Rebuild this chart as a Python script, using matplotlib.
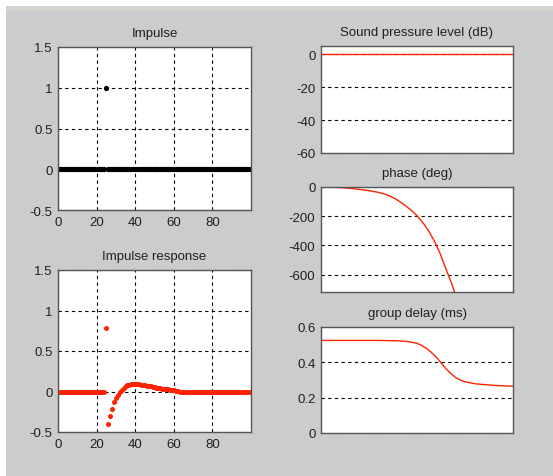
import matplotlib
matplotlib.use("Agg")
import matplotlib.pyplot as plt
from matplotlib.patches import Rectangle

# ---------------- data ----------------
n = list(range(0, 101))
impulse = [0.0] * 101
impulse[25] = 1.0

resp_head = [0.0] * 25
resp_tail_vals = [0.78, -0.40, -0.30, -0.21, -0.135, -0.085, -0.045, -0.01, 0.02, 0.045,
                  0.062, 0.075, 0.084, 0.09, 0.093, 0.094, 0.093, 0.09, 0.086, 0.082,
                  0.077, 0.072, 0.067, 0.062, 0.057, 0.053, 0.049, 0.045, 0.041, 0.037,
                  0.033, 0.029, 0.025, 0.021, 0.017, 0.013, 0.009, 0.005]
response = resp_head + resp_tail_vals + [0.0] * (101 - 25 - len(resp_tail_vals))

spl_f = [0.0, 1.0]
spl_db = [0.0, 0.0]

phase_f = [0.0, 0.05, 0.1, 0.15, 0.2, 0.25, 0.3, 0.34, 0.38, 0.41, 0.44, 0.47, 0.5,
           0.53, 0.56, 0.59, 0.62, 0.65, 0.68, 0.7, 0.72]
phase_deg = [0, -1, -4, -9, -16, -25, -37, -52, -75, -100, -128, -160, -197,
             -243, -300, -370, -455, -560, -660, -738, -820]

gd_f = [0.0, 0.1, 0.2, 0.3, 0.4, 0.45, 0.5, 0.525, 0.55, 0.575, 0.6, 0.625, 0.65, 0.675,
        0.7, 0.725, 0.75, 0.8, 0.85, 0.9, 0.95, 1.0]
gd_ms = [0.524, 0.524, 0.524, 0.524, 0.522, 0.518, 0.508, 0.495, 0.478, 0.456, 0.43,
         0.398, 0.365, 0.338, 0.315, 0.3, 0.29, 0.279, 0.274, 0.27, 0.267, 0.265]

# ---------------- style ----------------
W, H = 553, 477
plt.rcParams['font.family'] = ['Liberation Sans', 'DejaVu Sans']
plt.rcParams['font.size'] = 8
plt.rcParams['axes.unicode_minus'] = False
BG = '#cccccc'
RED = '#ff2200'
TXT = '#202020'
SPINE = '#555555'

fig = plt.figure(figsize=(W / 100, H / 100), dpi=100, facecolor='white')
fig.patches.append(Rectangle((6 / W, 0), 1, 1 - 7 / H, transform=fig.transFigure,
                             facecolor=BG, edgecolor='none', zorder=-10))
fig.patches.append(Rectangle((6 / W, 1 - 12 / H), 1, 5 / H, transform=fig.transFigure,
                             facecolor='#d6d3ce', edgecolor='none', zorder=-9))


def make_ax(l, t, r, b):
    ax = fig.add_axes([l / W, 1 - b / H, (r - l) / W, (b - t) / H])
    ax.set_facecolor('white')
    for s in ax.spines.values():
        s.set_color(SPINE)
        s.set_linewidth(1.0)
    ax.tick_params(direction='in', length=0, colors=TXT, labelsize=9.5, pad=4)
    return ax


def grid(ax, axis='both'):
    ax.grid(True, axis=axis, color='black', linestyle=(0, (3, 3)), linewidth=0.8)
    ax.set_axisbelow(True)


TFS = 9.5

# Impulse
ax1 = make_ax(58, 48, 251, 211)
ax1.plot(n, impulse, linestyle='none', marker='o', ms=3.8, mew=0, color='black')
ax1.set_xlim(0, 100)
ax1.set_ylim(-0.5, 1.5)
ax1.set_xticks([0, 20, 40, 60, 80])
ax1.set_yticks([-0.5, 0, 0.5, 1, 1.5])
ax1.set_yticklabels(['-0.5', '0', '0.5', '1', '1.5'])
grid(ax1)
ax1.set_title('Impulse', fontsize=TFS, color=TXT, pad=8)

# Impulse response
ax2 = make_ax(58, 271, 251, 433)
ax2.plot(n, response, linestyle='none', marker='o', ms=3.6, mew=0, color=RED)
ax2.set_xlim(0, 100)
ax2.set_ylim(-0.5, 1.5)
ax2.set_xticks([0, 20, 40, 60, 80])
ax2.set_yticks([-0.5, 0, 0.5, 1, 1.5])
ax2.set_yticklabels(['-0.5', '0', '0.5', '1', '1.5'])
grid(ax2)
ax2.set_title('Impulse response', fontsize=TFS, color=TXT, pad=8)

# SPL
ax3 = make_ax(321, 47, 513, 154)
ax3.plot(spl_f, spl_db, color=RED, lw=1.0)
ax3.set_xlim(0, 1)
ax3.set_ylim(-60, 5)
ax3.set_xticks([])
ax3.set_yticks([-60, -40, -20, 0])
grid(ax3, 'y')
ax3.set_title('Sound pressure level (dB)', fontsize=TFS, color=TXT, pad=8)

# phase
ax4 = make_ax(321, 188, 513, 293)
ax4.plot(phase_f, phase_deg, color=RED, lw=1.0)
ax4.set_xlim(0, 1)
ax4.set_ylim(-720, 0)
ax4.set_xticks([])
ax4.set_yticks([-600, -400, -200, 0])
grid(ax4, 'y')
ax4.set_title('phase (deg)', fontsize=TFS, color=TXT, pad=8)

# group delay
ax5 = make_ax(321, 328, 513, 434)
ax5.plot(gd_f, gd_ms, color=RED, lw=1.0)
ax5.set_xlim(0, 1)
ax5.set_ylim(0, 0.6)
ax5.set_xticks([])
ax5.set_yticks([0, 0.2, 0.4, 0.6])
ax5.set_yticklabels(['0', '0.2', '0.4', '0.6'])
grid(ax5, 'y')
ax5.set_title('group delay (ms)', fontsize=TFS, color=TXT, pad=8)

fig.savefig('out.png', dpi=100, facecolor=fig.get_facecolor())
